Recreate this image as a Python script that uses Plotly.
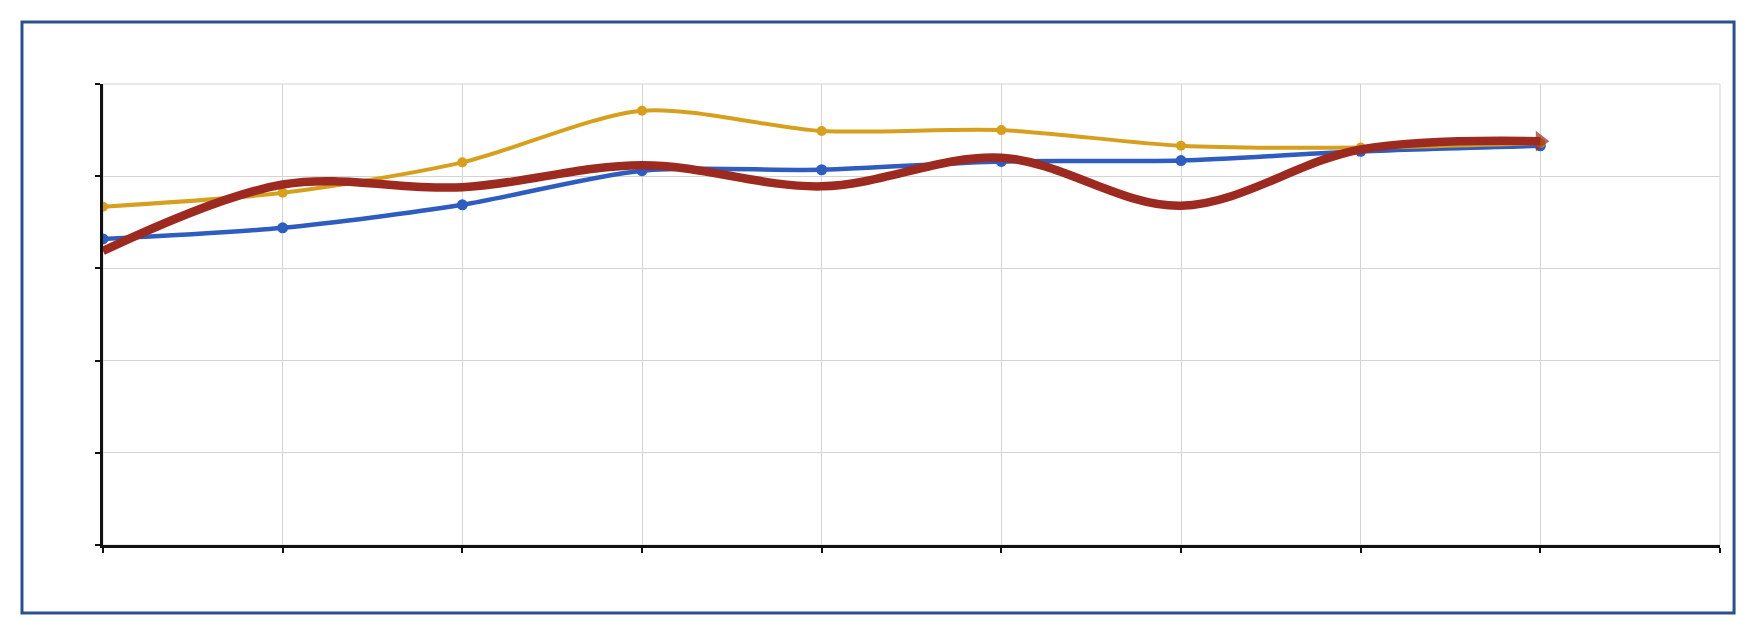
"""Three smooth line series in a framed panel, no tick labels."""
import plotly.graph_objects as go

# Values (y axis 0..5, x axis 0..9)
periods = [0, 1, 2, 3, 4, 5, 6, 7, 8]
blue_vals = [3.32, 3.44, 3.69, 4.06, 4.07, 4.16, 4.17, 4.27, 4.33]
gold_vals = [3.67, 3.82, 4.15, 4.71, 4.49, 4.50, 4.33, 4.31, 4.36]
red_vals = [3.19, 3.91, 3.88, 4.12, 3.89, 4.20, 3.68, 4.29, 4.38]

_BLUE = "#2F5CBF"
_GOLD = "#D6A01E"
_RED = "#9C2A20"
_FRAME = "#2A5090"
_GRID = "#D4D4D4"

fig = go.Figure()
fig.add_scatter(x=periods, y=blue_vals, mode="lines+markers",
                line=dict(color=_BLUE, width=4.5, shape="spline", smoothing=0.8),
                marker=dict(color=_BLUE, size=11), showlegend=False)
fig.add_scatter(x=periods, y=gold_vals, mode="lines+markers",
                line=dict(color=_GOLD, width=4, shape="spline", smoothing=0.8),
                marker=dict(color=_GOLD, size=10), showlegend=False)

# red line ends in an arrow head just short of the last point
n = len(red_vals)
fig.add_scatter(x=periods, y=red_vals, mode="lines+markers",
                line=dict(color=_RED, width=8.5, shape="spline", smoothing=1.0),
                marker=dict(color=_RED, size=[0] * (n - 1) + [18],
                            symbol=["circle"] * (n - 1) + ["triangle-right"],
                            line=dict(width=0)),
                showlegend=False)

axis_common = dict(showgrid=True, gridcolor=_GRID, gridwidth=1,
                   showline=True, linecolor="#111111", linewidth=2.5,
                   ticks="outside", ticklen=5, tickwidth=2, tickcolor="#111111",
                   showticklabels=False, zeroline=False, fixedrange=True)
fig.update_xaxes(range=[0, 9], dtick=1, **axis_common)
fig.update_yaxes(range=[0, 5], dtick=1, **axis_common)

# grid lines on the top and right edges of the plot area
fig.add_shape(type="rect", xref="x domain", yref="y domain",
              x0=0, x1=1, y0=0, y1=1,
              line=dict(color=_GRID, width=1), layer="below")

# outer frame around the whole panel
fig.add_shape(type="rect", xref="paper", yref="paper",
              x0=-0.0501, x1=1.0087, y0=-0.1475, y1=1.1345,
              line=dict(color=_FRAME, width=3), layer="below")

# page body keeps its default 8px margin, so size the figure to match
fig.update_layout(
    width=1748, height=626,
    margin=dict(l=95, r=36, t=76, b=89),
    paper_bgcolor="#FFFFFF", plot_bgcolor="#FFFFFF",
)

fig.write_html("out.html")
